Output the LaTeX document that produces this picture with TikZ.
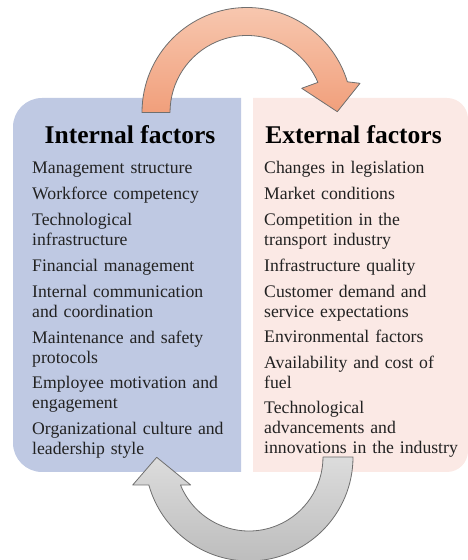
\documentclass[tikz,border=0pt]{standalone}
\usepackage{fontspec}
\setmainfont{Liberation Serif}
\usetikzlibrary{calc}

\definecolor{intfill}{HTML}{BFC9E3}
\definecolor{extfill}{HTML}{FBE9E5}
\definecolor{peachtop}{HTML}{F7C7AF}
\definecolor{peachbot}{HTML}{F19F7B}
\definecolor{greytop}{HTML}{DCDCDC}
\definecolor{greybot}{HTML}{BDBDBD}
\definecolor{rim}{HTML}{6F6F6F}
\definecolor{ink}{HTML}{222222}

\begin{document}
\begin{tikzpicture}[x=1pt,y=1pt,
  heading/.style={font=\fontsize{25.5}{28}\selectfont\bfseries, text=black,
                  inner sep=0pt, anchor=base},
  item/.style={font=\fontsize{17.7}{20}\selectfont, text=ink, inner sep=0pt,
               anchor=base west, align=left, text width=215pt},
  cyclearrow/.style={draw=rim, line width=0.8pt, line join=round},
  toparrow/.style={cyclearrow, top color=peachtop, bottom color=peachbot},
  botarrow/.style={cyclearrow, top color=greytop, bottom color=greybot}]

\useasboundingbox (0,0) rectangle (467,560);

% two panels: rounded on the outer side only
\fill[intfill] (241,88) -- (42,88) arc[start angle=270,end angle=180,radius=29]
  -- (13,433) arc[start angle=180,end angle=90,radius=29] -- (241,462) -- cycle;
\fill[extfill] (253,88) -- (447,88) arc[start angle=-90,end angle=0,radius=21]
  -- (468,441) arc[start angle=0,end angle=90,radius=21] -- (253,462) -- cycle;

% circular arrows
\coordinate (topc) at (247,447.5);
\coordinate (toptip) at (337.3,448.3);
\coordinate (topl) at (301.7,471.7);
\coordinate (topr) at (360,476.7);
\draw[toparrow] ($(topc)+(180:105)$) arc[start angle=180,end angle=17,radius=105]
  -- (topr) -- (toptip) -- (topl)
  -- ($(topc)+(23:77)$) arc[start angle=23,end angle=180,radius=77] -- cycle;

\coordinate (botc) at (249,103);
\coordinate (bottip) at (156.7,102.7);
\coordinate (botl) at (132.7,75);
\coordinate (botr) at (190.7,75);
\draw[botarrow] ($(botc)+(0:104)$) arc[start angle=0,end angle=-164.4,radius=104]
  -- (botl) -- (bottip) -- (botr)
  -- ($(botc)+(-157.8:74)$) arc[start angle=-157.8,end angle=0,radius=74] -- cycle;

% headings
\node[heading] (inthead) at (130,416.7) {Internal factors};
\node[heading] (exthead) at (353.5,416.7) {External factors};

% internal factors
\node[item] (i1) at (32,386) {Management structure};
\node[item] (i2) at (32,360) {Workforce competency};
\node[item] (i3) at (32,334) {Technological\\infrastructure};
\node[item] (i4) at (32,288.5) {Financial management};
\node[item] (i5) at (32,262.5) {Internal communication\\and coordination};
\node[item] (i6) at (32,216.5) {Maintenance and safety\\protocols};
\node[item] (i7) at (32,171) {Employee motivation and\\engagement};
\node[item] (i8) at (32,125.5) {Organizational culture and\\leadership style};

% external factors
\node[item] (e1) at (264,386) {Changes in legislation};
\node[item] (e2) at (264,360) {Market conditions};
\node[item] (e3) at (264,334) {Competition in the\\transport industry};
\node[item] (e4) at (264,288.5) {Infrastructure quality};
\node[item] (e5) at (264,262.5) {Customer demand and\\service expectations};
\node[item] (e6) at (264,217) {Environmental factors};
\node[item] (e7) at (264,191) {Availability and cost of\\fuel};
\node[item] (e8) at (264,146) {Technological\\advancements and\\innovations in the industry};

\end{tikzpicture}
\end{document}
